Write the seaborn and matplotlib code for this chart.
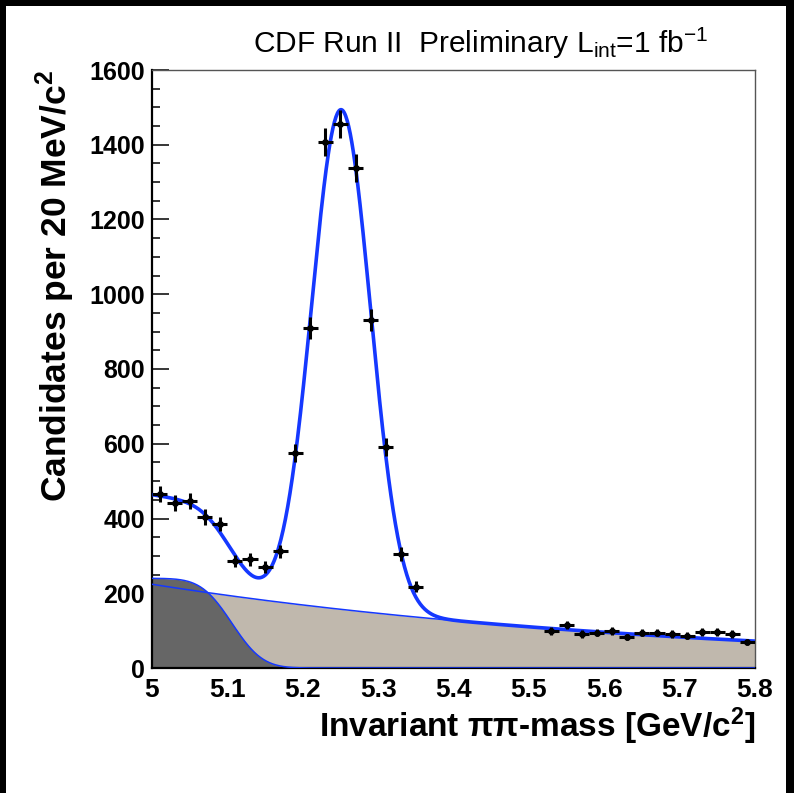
import math
import numpy as np
import pandas as pd
import matplotlib
matplotlib.use("Agg")
import matplotlib.pyplot as plt
from matplotlib.patches import Rectangle
from matplotlib.ticker import MultipleLocator
import seaborn as sns

# ---------------- data ----------------
bin_centers = [5.01, 5.03, 5.05, 5.07, 5.09, 5.11, 5.13, 5.15, 5.17, 5.19,
               5.21, 5.23, 5.25, 5.27, 5.29, 5.31, 5.33, 5.35,
               5.53, 5.55, 5.57, 5.59, 5.61, 5.63, 5.65, 5.67, 5.69, 5.71,
               5.73, 5.75, 5.77, 5.79]
counts = [465, 441, 447, 404, 385, 286, 291, 270, 312, 575,
          910, 1407, 1455, 1338, 931, 591, 305, 217,
          99, 115, 91, 94, 99, 83, 94, 94, 91, 86,
          96, 96, 91, 70]
bin_half_width = 0.01

# fit-curve parameters
signal_peak_mass = 5.251
signal_width = 0.039
signal_height = 1337
comb_at_left = 224      # combinatorial background at 5.0
comb_at_right = 72      # combinatorial background at 5.8
partial_plateau = 240   # partially reconstructed B plateau
partial_edge = 5.106
partial_edge_width = 0.032

x_range = (5.0, 5.8)
y_range = (0, 1600)
x_ticks = [5.0, 5.1, 5.2, 5.3, 5.4, 5.5, 5.6, 5.7, 5.8]
x_tick_labels = ["5", "5.1", "5.2", "5.3", "5.4", "5.5", "5.6", "5.7", "5.8"]
y_ticks = [0, 200, 400, 600, 800, 1000, 1200, 1400, 1600]

title_text = r"CDF Run II  Preliminary L$_{\mathregular{int}}$=1 fb$^{\mathregular{-1}}$"
x_label = r"Invariant ππ-mass [GeV/c$\mathregular{^2}$]"
y_label = r"Candidates per 20 MeV/c$\mathregular{^2}$"

# ---------------- curves ----------------
xs = np.linspace(x_range[0], x_range[1], 801)
k = math.log(comb_at_left / comb_at_right) / (x_range[1] - x_range[0])
comb = comb_at_left * np.exp(-k * (xs - x_range[0]))
erfc_v = np.vectorize(math.erfc)
partial = partial_plateau * 0.5 * erfc_v((xs - partial_edge) / (math.sqrt(2) * partial_edge_width))
signal = signal_height * np.exp(-0.5 * ((xs - signal_peak_mass) / signal_width) ** 2)
total = comb + partial + signal

curves = pd.DataFrame({"x": xs, "comb": comb, "partial": partial, "total": total})
pts = pd.DataFrame({"mass": bin_centers, "n": counts})

# ---------------- style ----------------
sns.set_style("ticks")
plt.rcParams["font.family"] = ["Liberation Sans", "DejaVu Sans"]
plt.rcParams["mathtext.default"] = "regular"
for key in ["text.color", "axes.labelcolor", "xtick.color", "ytick.color",
            "xtick.labelcolor", "ytick.labelcolor"]:
    plt.rcParams[key] = "black"

W, H = 794, 793
fig = plt.figure(figsize=(W / 100, H / 100), dpi=100, facecolor="black")
fig.add_artist(Rectangle((6 / W, 0), 780 / W, 787 / H, transform=fig.transFigure,
                         facecolor="white", edgecolor="none", zorder=-5))

ax = fig.add_axes([152 / W, 125 / H, 603 / W, 598 / H])
ax.set_facecolor("white")

blue = "#1538ff"
light = "#c0b8ad"
dark = "#666666"

ax.fill_between(curves["x"], 0, curves["comb"], color=light, lw=0, zorder=1)
ax.fill_between(curves["x"], 0, curves["partial"], color=dark, lw=0, zorder=2)
sns.lineplot(data=curves, x="x", y="comb", ax=ax, color=blue, lw=1.1, sort=False,
             estimator=None, zorder=3)
sns.lineplot(data=curves, x="x", y="partial", ax=ax, color=blue, lw=1.1, sort=False,
             estimator=None, zorder=3)
sns.lineplot(data=curves, x="x", y="total", ax=ax, color=blue, lw=2.6, sort=False,
             estimator=None, zorder=4)

ax.errorbar(pts["mass"], pts["n"], xerr=bin_half_width, yerr=np.sqrt(pts["n"]),
            fmt="none", ecolor="black", elinewidth=2.2, capsize=0, zorder=5)
sns.scatterplot(data=pts, x="mass", y="n", ax=ax, color="black", s=24,
                edgecolor="black", linewidth=0, zorder=6)

ax.set_xlim(*x_range)
ax.set_ylim(*y_range)
ax.set_xticks(x_ticks)
ax.set_xticklabels(x_tick_labels)
ax.set_yticks(y_ticks)
ax.xaxis.set_minor_locator(MultipleLocator(0.02))
ax.yaxis.set_minor_locator(MultipleLocator(50))
ax.tick_params(which="major", direction="in", length=12, width=1.1, color="black")
ax.tick_params(which="minor", direction="in", length=6, width=1.1, color="black")
ax.tick_params(axis="y", which="major", pad=5)
ax.tick_params(axis="x", which="major", pad=7)
for lab in ax.get_yticklabels():
    lab.set_fontweight("bold")
    lab.set_fontsize(18)
    lab.set_color("black")
for lab in ax.get_xticklabels():
    lab.set_fontweight("bold")
    lab.set_fontsize(19)
    lab.set_color("black")

for side in ["left", "bottom"]:
    ax.spines[side].set_linewidth(1.6)
    ax.spines[side].set_color("black")
for side in ["top", "right"]:
    ax.spines[side].set_linewidth(1.0)
    ax.spines[side].set_color("#555555")
    ax.spines[side].set_visible(True)

ax.set_xlabel(x_label, fontsize=24, fontweight="bold", loc="right", labelpad=3,
              color="black")
ax.set_ylabel(y_label, fontsize=25.5, fontweight="bold", loc="top", labelpad=9,
              color="black")

fig.text(708 / W, 1 - 53 / H, title_text, fontsize=21.5, ha="right", va="baseline",
         color="black")

fig.savefig("out.png", dpi=100)
